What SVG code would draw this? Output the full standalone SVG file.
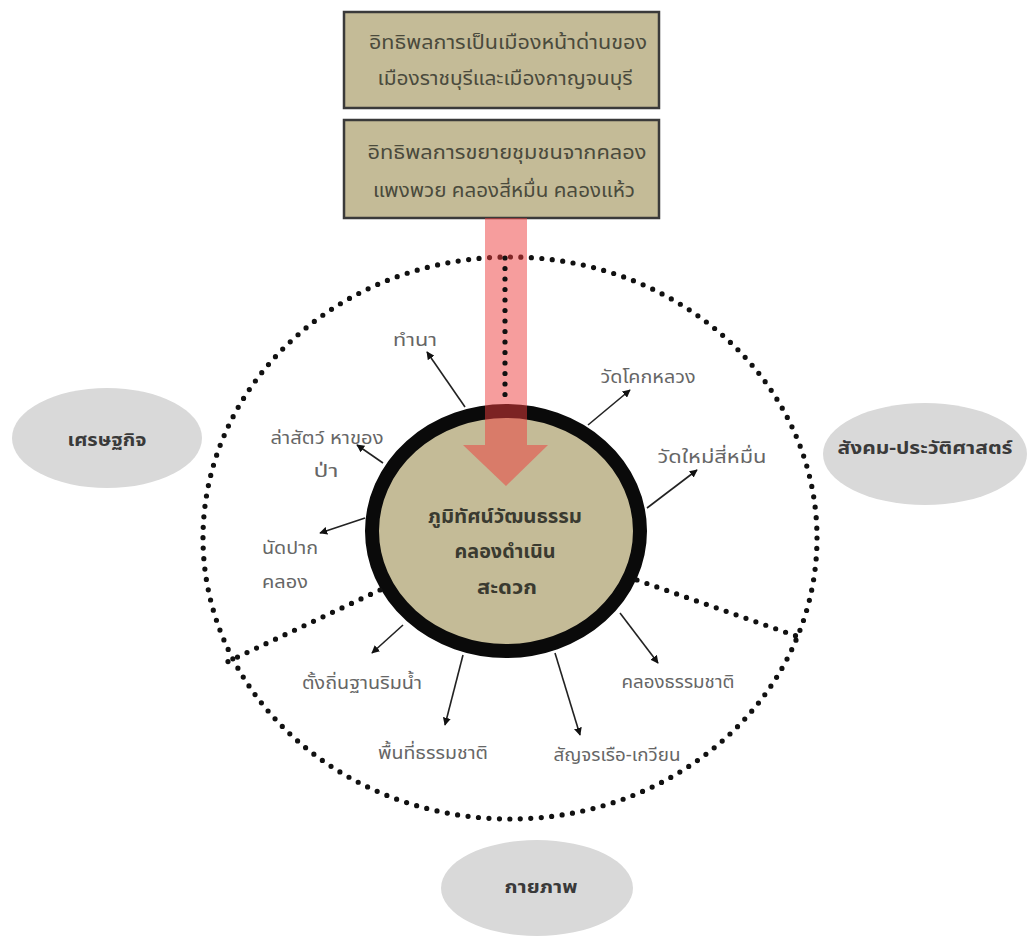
<svg xmlns="http://www.w3.org/2000/svg" width="1027" height="936" viewBox="0 0 1027 936">
<defs>
<style>
.box{fill:#c4bb97;stroke:#3a3a3a;stroke-width:2.5}
.bt{font-family:"Noto Sans Thai","Noto Sans","Liberation Sans",sans-serif;font-size:19px;fill:#4a4a3c;text-anchor:middle}
.lbl{font-family:"Noto Sans Thai","Noto Sans","Liberation Sans",sans-serif;font-size:18px;fill:#666;text-anchor:middle}
.ct{font-family:"Noto Sans Thai","Noto Sans","Liberation Sans",sans-serif;font-size:20px;font-weight:bold;fill:#3a3a30;text-anchor:middle}
.et{font-family:"Noto Sans Thai","Noto Sans","Liberation Sans",sans-serif;font-size:18px;font-weight:bold;fill:#3a3a3a;text-anchor:middle}
.dot{fill:none;stroke:#111;stroke-width:5.2;stroke-linecap:round;stroke-dasharray:0 10.5}
.ell{fill:#d9d9d9}
.arr{stroke:#222;stroke-width:1.6;fill:none;marker-end:url(#ah)}
</style>
<marker id="ah" viewBox="0 0 10 10" refX="9" refY="5" markerWidth="8" markerHeight="8" markerUnits="userSpaceOnUse" orient="auto">
<path d="M0,0 L10,5 L0,10 z" fill="#111"/>
</marker>
</defs>

<g id="box1">
<rect class="box" x="344" y="12" width="315" height="96"/>
<text class="bt" x="508" y="49" textLength="278" lengthAdjust="spacingAndGlyphs">อิทธิพลการเป็นเมืองหน้าด่านของ</text>
<text class="bt" x="505" y="85" textLength="255" lengthAdjust="spacingAndGlyphs">เมืองราชบุรีและเมืองกาญจนบุรี</text>
</g>
<g id="box2">
<rect class="box" x="344" y="120" width="315" height="98"/>
<text class="bt" x="507" y="159" textLength="279" lengthAdjust="spacingAndGlyphs">อิทธิพลการขยายชุมชนจากคลอง</text>
<text class="bt" x="504" y="197" textLength="262" lengthAdjust="spacingAndGlyphs">แพงพวย คลองสี่หมื่น คลองแห้ว</text>
</g>

<g id="outer-ring">
<ellipse class="dot" cx="510" cy="538" rx="307" ry="281"/>
</g>

<g id="center">
<ellipse cx="506" cy="531" rx="134" ry="120" fill="#c4bb97" stroke="#0a0a0a" stroke-width="14"/>
</g>

<g id="influence-arrow">
<path d="M485,218 L527,218 L527,445 L548,445 L506,486 L463,445 L485,445 Z" fill="#ee3b3b" fill-opacity="0.5"/>
</g>

<g id="center-text">
<text class="ct" x="505" y="523" textLength="154" lengthAdjust="spacingAndGlyphs">ภูมิทัศน์วัฒนธรรม</text>
<text class="ct" x="505" y="558" textLength="101" lengthAdjust="spacingAndGlyphs">คลองดำเนิน</text>
<text class="ct" x="507" y="594" textLength="60" lengthAdjust="spacingAndGlyphs">สะดวก</text>
</g>

<g id="dividers">
<line class="dot" x1="505" y1="258" x2="505" y2="405"/>
<line class="dot" x1="380" y1="590" x2="227" y2="662"/>
<line class="dot" x1="637" y1="580" x2="802" y2="638"/>
</g>

<g id="connectors">
<line class="arr" x1="465" y1="407" x2="427" y2="352"/>
<line class="arr" x1="383" y1="463" x2="357" y2="445"/>
<line class="arr" x1="365" y1="518" x2="320" y2="533"/>
<line class="arr" x1="588" y1="425" x2="630" y2="390"/>
<line class="arr" x1="647" y1="508" x2="697" y2="470"/>
<line class="arr" x1="403" y1="625" x2="372" y2="653"/>
<line class="arr" x1="463" y1="655" x2="445" y2="725"/>
<line class="arr" x1="620" y1="613" x2="658" y2="663"/>
<line class="arr" x1="555" y1="653" x2="580" y2="735"/>
</g>

<g id="n-tamna"><text class="lbl" x="415" y="346" textLength="44" lengthAdjust="spacingAndGlyphs">ทำนา</text></g>
<g id="n-hunt"><text class="lbl" x="327" y="444" textLength="113" lengthAdjust="spacingAndGlyphs">ล่าสัตว์ หาของ</text><text class="lbl" x="326" y="477" textLength="25" lengthAdjust="spacingAndGlyphs">ป่า</text></g>
<g id="n-market"><text class="lbl" x="262" y="554" style="text-anchor:start" textLength="56" lengthAdjust="spacingAndGlyphs">นัดปาก</text><text class="lbl" x="262" y="588" style="text-anchor:start" textLength="46" lengthAdjust="spacingAndGlyphs">คลอง</text></g>
<g id="n-watkok"><text class="lbl" x="648" y="383" textLength="95" lengthAdjust="spacingAndGlyphs">วัดโคกหลวง</text></g>
<g id="n-watmai"><text class="lbl" x="712" y="463" textLength="109" lengthAdjust="spacingAndGlyphs">วัดใหม่สี่หมื่น</text></g>
<g id="n-settle"><text class="lbl" x="362" y="689" textLength="120" lengthAdjust="spacingAndGlyphs">ตั้งถิ่นฐานริมน้ำ</text></g>
<g id="n-nature"><text class="lbl" x="433" y="759" textLength="110" lengthAdjust="spacingAndGlyphs">พื้นที่ธรรมชาติ</text></g>
<g id="n-canal"><text class="lbl" x="678" y="688" textLength="113" lengthAdjust="spacingAndGlyphs">คลองธรรมชาติ</text></g>
<g id="n-travel"><text class="lbl" x="617" y="761" textLength="127" lengthAdjust="spacingAndGlyphs">สัญจรเรือ-เกวียน</text></g>

<g id="e-econ"><ellipse class="ell" cx="107" cy="438" rx="95" ry="50"/><text class="et" x="107" y="446" textLength="79" lengthAdjust="spacingAndGlyphs">เศรษฐกิจ</text></g>
<g id="e-social"><ellipse class="ell" cx="925" cy="454" rx="102" ry="51"/><text class="et" x="925" y="454" textLength="175" lengthAdjust="spacingAndGlyphs">สังคม-ประวัติศาสตร์</text></g>
<g id="e-phys"><ellipse class="ell" cx="537" cy="888" rx="96" ry="48"/><text class="et" x="541" y="893" textLength="73" lengthAdjust="spacingAndGlyphs">กายภาพ</text></g>
</svg>
